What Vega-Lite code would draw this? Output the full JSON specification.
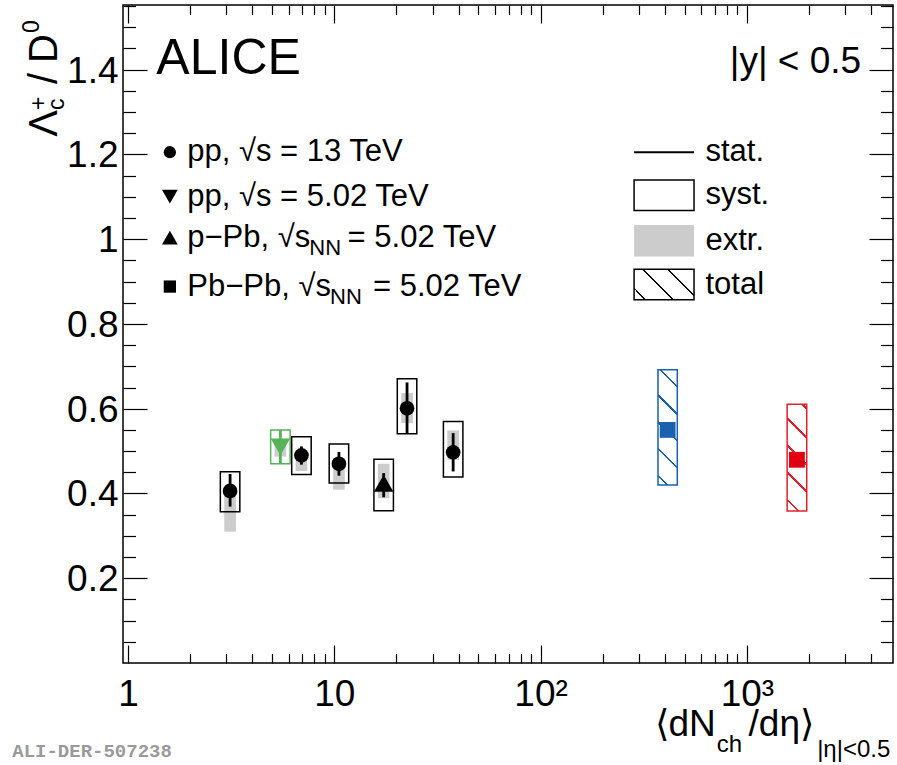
{
  "$schema": "https://vega.github.io/schema/vega-lite/v6.json",
  "width": 770,
  "height": 658,
  "autosize": "none",
  "padding": {"left": 123, "top": 5, "right": 4, "bottom": 102},
  "background": "white",
  "config": {
    "view": {"stroke": "#000000", "strokeWidth": 1.5},
    "text": {"font": "Liberation Sans", "color": "#000000"},
    "axis": {"domain": false, "grid": false, "title": null, "tickColor": "#000000", "tickWidth": 1.2, "labelFont": "Liberation Sans", "labelColor": "#000000", "labelFontSize": 37, "labelFlush": false, "labelOverlap": false, "labelBound": false}
  },
  "resolve": {"axis": {"x": "independent", "y": "independent"}, "scale": {"size": "independent"}},
  "datasets": {
    "meas": [
      {"sys": "pp13", "grp": "pp13", "x": 3.125, "y": 0.406, "statLo": 0.369, "statHi": 0.446, "systLo": 0.357, "systHi": 0.451, "extrLo": 0.31, "extrHi": 0.405},
      {"sys": "pp5", "grp": "pp5", "x": 5.48, "y": 0.51, "statLo": 0.47, "statHi": 0.55, "systLo": 0.47, "systHi": 0.55, "extrLo": 0.487, "extrHi": 0.527},
      {"sys": "pp13", "grp": "pp13", "x": 6.93, "y": 0.49, "statLo": 0.468, "statHi": 0.511, "systLo": 0.445, "systHi": 0.534, "extrLo": 0.453, "extrHi": 0.489},
      {"sys": "pp13", "grp": "pp13", "x": 10.53, "y": 0.47, "statLo": 0.442, "statHi": 0.498, "systLo": 0.4245, "systHi": 0.517, "extrLo": 0.409, "extrHi": 0.47},
      {"sys": "pPb", "grp": "pPb", "x": 17.35, "y": 0.424, "statLo": 0.391, "statHi": 0.448, "systLo": 0.359, "systHi": 0.481, "extrLo": 0.389, "extrHi": 0.47},
      {"sys": "pp13", "grp": "pp13", "x": 22.52, "y": 0.601, "statLo": 0.5425, "statHi": 0.662, "systLo": 0.541, "systHi": 0.671, "extrLo": 0.566, "extrHi": 0.637},
      {"sys": "pp13", "grp": "pp13", "x": 37.68, "y": 0.497, "statLo": 0.452, "statHi": 0.5425, "systLo": 0.4387, "systHi": 0.5698, "extrLo": 0.4795, "extrHi": 0.5486},
      {"sys": "PbPb", "grp": "PbPb010", "x": 412.9, "y": 0.55, "statLo": 0.54, "statHi": 0.56, "totLo": 0.4198, "totHi": 0.6917},
      {"sys": "PbPb", "grp": "PbPb3050", "x": 1748, "y": 0.4795, "statLo": 0.47, "statHi": 0.49, "totLo": 0.3585, "totHi": 0.6108}
    ],
    "legSym": [
      {"sys": "pp13", "x": 1.5954, "y": 1.2052},
      {"sys": "pp5", "x": 1.5954, "y": 1.1005},
      {"sys": "pPb", "x": 1.5954, "y": 1.0038},
      {"sys": "PbPb", "x": 1.5954, "y": 0.8882}
    ],
    "legBox": [
      {"item": "stat", "x": 283.9, "x2": 554.2, "y": 1.2052, "y2": 1.2052},
      {"item": "syst", "x": 283.9, "x2": 554.2, "y": 1.0675, "y2": 1.1398},
      {"item": "extr", "x": 283.9, "x2": 554.2, "y": 0.959, "y2": 1.0337},
      {"item": "total", "x": 283.9, "x2": 554.2, "y": 0.8569, "y2": 0.9292}
    ],
    "ann": [
      {"role": "leg", "x": 1.937, "y": 1.2052, "text": "pp, √s = 13 TeV"},
      {"role": "leg", "x": 1.937, "y": 1.1005, "text": "pp, √s = 5.02 TeV"},
      {"role": "leg", "x": 1.937, "y": 1.0038, "text": "p−Pb, √s"},
      {"role": "legsub", "x": 7.568, "y": 1.0038, "text": "NN"},
      {"role": "leg", "x": 11.6, "y": 1.0038, "text": "= 5.02 TeV"},
      {"role": "leg", "x": 1.937, "y": 0.8882, "text": "Pb−Pb, √s"},
      {"role": "legsub", "x": 9.537, "y": 0.8882, "text": "NN"},
      {"role": "leg", "x": 15.4, "y": 0.8882, "text": "= 5.02 TeV"},
      {"role": "leg", "x": 629.5, "y": 1.2052, "text": "stat."},
      {"role": "leg", "x": 629.5, "y": 1.1038, "text": "syst."},
      {"role": "leg", "x": 629.5, "y": 0.9964, "text": "extr."},
      {"role": "leg", "x": 629.5, "y": 0.893, "text": "total"},
      {"role": "alice", "x": 1.372, "y": 1.3899, "text": "ALICE"},
      {"role": "rap", "x": 3580, "y": 1.3915, "text": "|y| < 0.5"},
      {"role": "xt", "x": 356.6, "y": -0.1715, "text": "⟨dN"},
      {"role": "xtsub", "x": 715, "y": -0.2105, "text": "ch"},
      {"role": "xt", "x": 1019, "y": -0.1715, "text": "/dη⟩"},
      {"role": "xtsub", "x": 2190, "y": -0.2215, "text": "|η|<0.5"},
      {"role": "yt", "x": 0.4544, "y": 1.242, "text": "Λ"},
      {"role": "ytsub", "x": 0.4887, "y": 1.305, "text": "c"},
      {"role": "ytsub", "x": 0.4017, "y": 1.305, "text": "+"},
      {"role": "yt", "x": 0.4544, "y": 1.3663, "text": "/"},
      {"role": "yt", "x": 0.4544, "y": 1.4158, "text": "D"},
      {"role": "ytsub", "x": 0.3718, "y": 1.4866, "text": "0"},
      {"role": "wm", "x": 0.2747, "y": -0.221, "text": "ALI-DER-507238"}
    ]
  },
  "layer": [
    {
      "data": {"name": "meas"},
      "transform": [{"filter": "datum.sys != 'PbPb'"}],
      "mark": {"type": "bar", "width": 11.7, "color": "#cccccc"},
      "encoding": {
        "x": {"field": "x", "type": "quantitative", "scale": {"type": "log", "domain": [1, 4830], "nice": false},
              "axis": {"orient": "bottom", "values": [1, 10, 100, 1000], "ticks": false, "labelPadding": 13, "labelExpr": "datum.value == 100 ? '10²' : datum.value == 1000 ? '10³' : format(datum.value, '~g')"}},
        "y": {"field": "extrLo", "type": "quantitative", "scale": {"domain": [0, 1.5526], "nice": false, "zero": false},
              "axis": {"orient": "left", "values": [0.2, 0.4, 0.6, 0.8, 1, 1.2, 1.4], "ticks": false, "labelPadding": 5, "labelOffset": 1.5, "labelExpr": "format(datum.value, '~g')"}},
        "y2": {"field": "extrHi"}
      }
    },
    {
      "data": {"name": "meas"},
      "transform": [{"filter": "datum.sys != 'PbPb'"}],
      "mark": {"type": "bar", "width": 19.5, "filled": false, "strokeWidth": 1.5},
      "encoding": {
        "x": {"field": "x", "type": "quantitative", "scale": {"type": "log", "domain": [1, 4830], "nice": false},
              "axis": {"orient": "bottom", "values": [1, 10, 100, 1000], "labels": false, "tickSize": -18}},
        "y": {"field": "systLo", "type": "quantitative", "scale": {"domain": [0, 1.5526], "nice": false, "zero": false},
              "axis": {"orient": "left", "values": [0.2, 0.4, 0.6, 0.8, 1, 1.2, 1.4], "labels": false, "tickSize": -24}},
        "y2": {"field": "systHi"},
        "color": {"field": "grp", "type": "nominal", "legend": null, "scale": {"domain": ["pp13", "pp5", "pPb", "PbPb010", "PbPb3050"], "range": ["#000000", "#55b358", "#000000", "#1a62ae", "#e0000f"]}}
      }
    },
    {
      "data": {"name": "meas"},
      "transform": [{"filter": "datum.grp == 'PbPb010'"}],
      "mark": {"type": "bar", "width": 19.3, "stroke": "#1a62ae", "strokeWidth": 1.5,
               "fill": {"gradient": "linear", "x1": 0, "y1": 1, "x2": 0.1901, "y2": -0.1356, "stops": [
                 {"offset": 0, "color": "#ffffff"},
                 {"offset": 0.0605, "color": "#ffffff"}, {"offset": 0.0605, "color": "#1a62ae"}, {"offset": 0.0775, "color": "#1a62ae"}, {"offset": 0.0775, "color": "#ffffff"},
                 {"offset": 0.2615, "color": "#ffffff"}, {"offset": 0.2615, "color": "#1a62ae"}, {"offset": 0.2785, "color": "#1a62ae"}, {"offset": 0.2785, "color": "#ffffff"},
                 {"offset": 0.4615, "color": "#ffffff"}, {"offset": 0.4615, "color": "#1a62ae"}, {"offset": 0.4785, "color": "#1a62ae"}, {"offset": 0.4785, "color": "#ffffff"},
                 {"offset": 0.6615, "color": "#ffffff"}, {"offset": 0.6615, "color": "#1a62ae"}, {"offset": 0.6785, "color": "#1a62ae"}, {"offset": 0.6785, "color": "#ffffff"},
                 {"offset": 0.8675, "color": "#ffffff"}, {"offset": 0.8675, "color": "#1a62ae"}, {"offset": 0.8845, "color": "#1a62ae"}, {"offset": 0.8845, "color": "#ffffff"},
                 {"offset": 1, "color": "#ffffff"}]}},
      "encoding": {
        "x": {"field": "x", "type": "quantitative", "scale": {"type": "log", "domain": [1, 4830], "nice": false},
              "axis": {"orient": "top", "values": [1, 10, 100, 1000], "labels": false, "tickSize": -18}},
        "y": {"field": "totLo", "type": "quantitative", "scale": {"domain": [0, 1.5526], "nice": false, "zero": false},
              "axis": {"orient": "right", "values": [0.2, 0.4, 0.6, 0.8, 1, 1.2, 1.4], "labels": false, "tickSize": -24}},
        "y2": {"field": "totHi"}
      }
    },
    {
      "data": {"name": "meas"},
      "transform": [{"filter": "datum.grp == 'PbPb3050'"}],
      "mark": {"type": "bar", "width": 19.6, "stroke": "#e3202a", "strokeWidth": 1.5,
               "fill": {"gradient": "linear", "x1": 0, "y1": 1, "x2": 0.2097, "y2": -0.1449, "stops": [
                 {"offset": 0, "color": "#ffffff"},
                 {"offset": 0.079, "color": "#ffffff"}, {"offset": 0.079, "color": "#e3202a"}, {"offset": 0.099, "color": "#e3202a"}, {"offset": 0.099, "color": "#ffffff"},
                 {"offset": 0.296, "color": "#ffffff"}, {"offset": 0.296, "color": "#e3202a"}, {"offset": 0.316, "color": "#e3202a"}, {"offset": 0.316, "color": "#ffffff"},
                 {"offset": 0.509, "color": "#ffffff"}, {"offset": 0.509, "color": "#e3202a"}, {"offset": 0.529, "color": "#e3202a"}, {"offset": 0.529, "color": "#ffffff"},
                 {"offset": 0.725, "color": "#ffffff"}, {"offset": 0.725, "color": "#e3202a"}, {"offset": 0.745, "color": "#e3202a"}, {"offset": 0.745, "color": "#ffffff"},
                 {"offset": 0.954, "color": "#ffffff"}, {"offset": 0.954, "color": "#e3202a"}, {"offset": 0.974, "color": "#e3202a"}, {"offset": 0.974, "color": "#ffffff"},
                 {"offset": 1, "color": "#ffffff"}]}},
      "encoding": {
        "x": {"field": "x", "type": "quantitative", "scale": {"type": "log", "domain": [1, 4830], "nice": false},
              "axis": {"orient": "top", "values": [2, 3, 4, 5, 6, 7, 8, 9, 20, 30, 40, 50, 60, 70, 80, 90, 200, 300, 400, 500, 600, 700, 800, 900, 2000, 3000, 4000], "labels": false, "tickSize": -9.5}},
        "y": {"field": "totLo", "type": "quantitative", "scale": {"domain": [0, 1.5526], "nice": false, "zero": false},
              "axis": {"orient": "right", "values": [0.05, 0.1, 0.15, 0.25, 0.3, 0.35, 0.45, 0.5, 0.55, 0.65, 0.7, 0.75, 0.85, 0.9, 0.95, 1.05, 1.1, 1.15, 1.25, 1.3, 1.35, 1.45, 1.5, 1.55], "labels": false, "tickSize": -12.5}},
        "y2": {"field": "totHi"}
      }
    },
    {
      "data": {"name": "meas"},
      "mark": {"type": "rule", "strokeWidth": 2.8},
      "encoding": {
        "x": {"field": "x", "type": "quantitative", "scale": {"type": "log", "domain": [1, 4830], "nice": false},
              "axis": {"orient": "bottom", "values": [2, 3, 4, 5, 6, 7, 8, 9, 20, 30, 40, 50, 60, 70, 80, 90, 200, 300, 400, 500, 600, 700, 800, 900, 2000, 3000, 4000], "labels": false, "tickSize": -9.5}},
        "y": {"field": "statLo", "type": "quantitative", "scale": {"domain": [0, 1.5526], "nice": false, "zero": false},
              "axis": {"orient": "left", "values": [0.05, 0.1, 0.15, 0.25, 0.3, 0.35, 0.45, 0.5, 0.55, 0.65, 0.7, 0.75, 0.85, 0.9, 0.95, 1.05, 1.1, 1.15, 1.25, 1.3, 1.35, 1.45, 1.5, 1.55], "labels": false, "tickSize": -12.5}},
        "y2": {"field": "statHi"},
        "color": {"field": "grp", "type": "nominal", "legend": null, "scale": {"domain": ["pp13", "pp5", "pPb", "PbPb010", "PbPb3050"], "range": ["#000000", "#55b358", "#000000", "#1a62ae", "#e0000f"]}}
      }
    },
    {
      "data": {"name": "meas"},
      "mark": {"type": "point", "filled": true, "opacity": 1},
      "encoding": {
        "x": {"field": "x", "type": "quantitative", "scale": {"type": "log", "domain": [1, 4830], "nice": false}, "axis": null},
        "y": {"field": "y", "type": "quantitative", "scale": {"domain": [0, 1.5526], "nice": false, "zero": false}, "axis": null},
        "shape": {"field": "sys", "type": "nominal", "legend": null, "scale": {"domain": ["pp13", "pp5", "pPb", "PbPb"], "range": ["circle", "triangle-down", "triangle-up", "square"]}},
        "size": {"field": "sys", "type": "nominal", "legend": null, "scale": {"type": "ordinal", "domain": ["pp13", "pp5", "pPb", "PbPb"], "range": [216, 380, 380, 250]}},
        "color": {"field": "grp", "type": "nominal", "legend": null, "scale": {"domain": ["pp13", "pp5", "pPb", "PbPb010", "PbPb3050"], "range": ["#000000", "#55b358", "#000000", "#1a62ae", "#e0000f"]}}
      }
    },
    {
      "data": {"name": "legSym"},
      "mark": {"type": "point", "filled": true, "opacity": 1, "color": "#000000"},
      "encoding": {
        "x": {"field": "x", "type": "quantitative", "scale": {"type": "log", "domain": [1, 4830], "nice": false}, "axis": null},
        "y": {"field": "y", "type": "quantitative", "scale": {"domain": [0, 1.5526], "nice": false, "zero": false}, "axis": null},
        "shape": {"field": "sys", "type": "nominal", "legend": null, "scale": {"domain": ["pp13", "pp5", "pPb", "PbPb"], "range": ["circle", "triangle-down", "triangle-up", "square"]}},
        "size": {"field": "sys", "type": "nominal", "legend": null, "scale": {"type": "ordinal", "domain": ["pp13", "pp5", "pPb", "PbPb"], "range": [150, 250, 250, 150]}}
      }
    },
    {
      "data": {"name": "legBox"},
      "transform": [{"filter": "datum.item == 'stat'"}],
      "mark": {"type": "rule", "color": "#000000", "strokeWidth": 2},
      "encoding": {
        "x": {"field": "x", "type": "quantitative", "scale": {"type": "log", "domain": [1, 4830], "nice": false}, "axis": null},
        "x2": {"field": "x2"},
        "y": {"field": "y", "type": "quantitative", "scale": {"domain": [0, 1.5526], "nice": false, "zero": false}, "axis": null}
      }
    },
    {
      "data": {"name": "legBox"},
      "transform": [{"filter": "datum.item == 'extr'"}],
      "mark": {"type": "rect", "color": "#cccccc"},
      "encoding": {
        "x": {"field": "x", "type": "quantitative", "scale": {"type": "log", "domain": [1, 4830], "nice": false}, "axis": null},
        "x2": {"field": "x2"},
        "y": {"field": "y", "type": "quantitative", "scale": {"domain": [0, 1.5526], "nice": false, "zero": false}, "axis": null},
        "y2": {"field": "y2"}
      }
    },
    {
      "data": {"name": "legBox"},
      "transform": [{"filter": "datum.item == 'syst'"}],
      "mark": {"type": "rect", "fill": "#ffffff", "stroke": "#000000", "strokeWidth": 1.5},
      "encoding": {
        "x": {"field": "x", "type": "quantitative", "scale": {"type": "log", "domain": [1, 4830], "nice": false}, "axis": null},
        "x2": {"field": "x2"},
        "y": {"field": "y", "type": "quantitative", "scale": {"domain": [0, 1.5526], "nice": false, "zero": false}, "axis": null},
        "y2": {"field": "y2"}
      }
    },
    {
      "data": {"name": "legBox"},
      "transform": [{"filter": "datum.item == 'total'"}],
      "mark": {"type": "rect", "stroke": "#000000", "strokeWidth": 1.5,
               "fill": {"gradient": "linear", "x1": 0, "y1": 1, "x2": 1.1994, "y2": 0.3934, "stops": [
                 {"offset": 0, "color": "#ffffff"},
                 {"offset": 0.118, "color": "#ffffff"}, {"offset": 0.118, "color": "#000000"}, {"offset": 0.138, "color": "#000000"}, {"offset": 0.138, "color": "#ffffff"},
                 {"offset": 0.424, "color": "#ffffff"}, {"offset": 0.424, "color": "#000000"}, {"offset": 0.444, "color": "#000000"}, {"offset": 0.444, "color": "#ffffff"},
                 {"offset": 0.698, "color": "#ffffff"}, {"offset": 0.698, "color": "#000000"}, {"offset": 0.718, "color": "#000000"}, {"offset": 0.718, "color": "#ffffff"},
                 {"offset": 1, "color": "#ffffff"}]}},
      "encoding": {
        "x": {"field": "x", "type": "quantitative", "scale": {"type": "log", "domain": [1, 4830], "nice": false}, "axis": null},
        "x2": {"field": "x2"},
        "y": {"field": "y", "type": "quantitative", "scale": {"domain": [0, 1.5526], "nice": false, "zero": false}, "axis": null},
        "y2": {"field": "y2"}
      }
    },
    {
      "data": {"name": "ann"},
      "transform": [{"filter": "datum.role == 'leg'"}],
      "mark": {"type": "text", "fontSize": 31, "align": "left", "baseline": "middle"},
      "encoding": {
        "x": {"field": "x", "type": "quantitative", "scale": {"type": "log", "domain": [1, 4830], "nice": false}, "axis": null},
        "y": {"field": "y", "type": "quantitative", "scale": {"domain": [0, 1.5526], "nice": false, "zero": false}, "axis": null},
        "text": {"field": "text"}
      }
    },
    {
      "data": {"name": "ann"},
      "transform": [{"filter": "datum.role == 'legsub'"}],
      "mark": {"type": "text", "fontSize": 22, "align": "left", "baseline": "alphabetic", "dy": 17},
      "encoding": {
        "x": {"field": "x", "type": "quantitative", "scale": {"type": "log", "domain": [1, 4830], "nice": false}, "axis": null},
        "y": {"field": "y", "type": "quantitative", "scale": {"domain": [0, 1.5526], "nice": false, "zero": false}, "axis": null},
        "text": {"field": "text"}
      }
    },
    {
      "data": {"name": "ann"},
      "transform": [{"filter": "datum.role == 'alice'"}],
      "mark": {"type": "text", "fontSize": 50, "align": "left", "baseline": "alphabetic"},
      "encoding": {
        "x": {"field": "x", "type": "quantitative", "scale": {"type": "log", "domain": [1, 4830], "nice": false}, "axis": null},
        "y": {"field": "y", "type": "quantitative", "scale": {"domain": [0, 1.5526], "nice": false, "zero": false}, "axis": null},
        "text": {"field": "text"}
      }
    },
    {
      "data": {"name": "ann"},
      "transform": [{"filter": "datum.role == 'rap'"}],
      "mark": {"type": "text", "fontSize": 37, "align": "right", "baseline": "alphabetic"},
      "encoding": {
        "x": {"field": "x", "type": "quantitative", "scale": {"type": "log", "domain": [1, 4830], "nice": false}, "axis": null},
        "y": {"field": "y", "type": "quantitative", "scale": {"domain": [0, 1.5526], "nice": false, "zero": false}, "axis": null},
        "text": {"field": "text"}
      }
    },
    {
      "data": {"name": "ann"},
      "transform": [{"filter": "datum.role == 'xt'"}],
      "mark": {"type": "text", "fontSize": 37, "align": "left", "baseline": "alphabetic"},
      "encoding": {
        "x": {"field": "x", "type": "quantitative", "scale": {"type": "log", "domain": [1, 4830], "nice": false}, "axis": null},
        "y": {"field": "y", "type": "quantitative", "scale": {"domain": [0, 1.5526], "nice": false, "zero": false}, "axis": null},
        "text": {"field": "text"}
      }
    },
    {
      "data": {"name": "ann"},
      "transform": [{"filter": "datum.role == 'xtsub'"}],
      "mark": {"type": "text", "fontSize": 24, "align": "left", "baseline": "alphabetic"},
      "encoding": {
        "x": {"field": "x", "type": "quantitative", "scale": {"type": "log", "domain": [1, 4830], "nice": false}, "axis": null},
        "y": {"field": "y", "type": "quantitative", "scale": {"domain": [0, 1.5526], "nice": false, "zero": false}, "axis": null},
        "text": {"field": "text"}
      }
    },
    {
      "data": {"name": "ann"},
      "transform": [{"filter": "datum.role == 'yt'"}],
      "mark": {"type": "text", "fontSize": 40, "align": "left", "baseline": "alphabetic", "angle": 270},
      "encoding": {
        "x": {"field": "x", "type": "quantitative", "scale": {"type": "log", "domain": [1, 4830], "nice": false}, "axis": null},
        "y": {"field": "y", "type": "quantitative", "scale": {"domain": [0, 1.5526], "nice": false, "zero": false}, "axis": null},
        "text": {"field": "text"}
      }
    },
    {
      "data": {"name": "ann"},
      "transform": [{"filter": "datum.role == 'ytsub'"}],
      "mark": {"type": "text", "fontSize": 23, "align": "left", "baseline": "alphabetic", "angle": 270},
      "encoding": {
        "x": {"field": "x", "type": "quantitative", "scale": {"type": "log", "domain": [1, 4830], "nice": false}, "axis": null},
        "y": {"field": "y", "type": "quantitative", "scale": {"domain": [0, 1.5526], "nice": false, "zero": false}, "axis": null},
        "text": {"field": "text"}
      }
    },
    {
      "data": {"name": "ann"},
      "transform": [{"filter": "datum.role == 'wm'"}],
      "mark": {"type": "text", "font": "Liberation Mono", "fontWeight": "bold", "fontSize": 19, "color": "#9a9a9a", "align": "left", "baseline": "alphabetic"},
      "encoding": {
        "x": {"field": "x", "type": "quantitative", "scale": {"type": "log", "domain": [1, 4830], "nice": false}, "axis": null},
        "y": {"field": "y", "type": "quantitative", "scale": {"domain": [0, 1.5526], "nice": false, "zero": false}, "axis": null},
        "text": {"field": "text"}
      }
    }
  ]
}
